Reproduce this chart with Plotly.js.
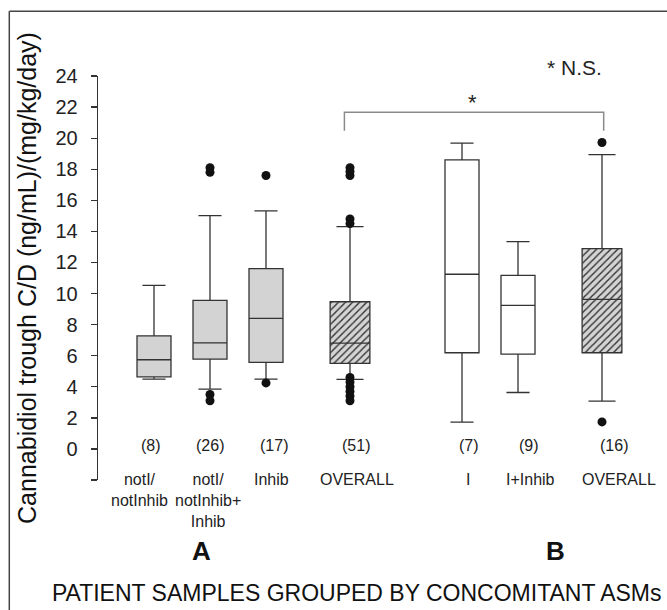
<!DOCTYPE html>
<html>
<head>
<meta charset="utf-8">
<script src="https://cdn.plot.ly/plotly-3.0.1.min.js"></script>
<style>html,body{margin:0;padding:0;background:#fff;}#chart{width:667px;height:610px;}</style>
</head>
<body>
<div id="chart"></div>
<script>
// ---- data ----
const categories = ['notI/<br>notInhib', 'notI/<br>notInhib+<br>Inhib', 'Inhib', 'OVERALL', 'I', 'I+Inhib', 'OVERALL'];
const counts = ['(8)', '(26)', '(17)', '(51)', '(7)', '(9)', '(16)'];
const groupLabels = ['A', 'B'];
const q1 = [4.64, 5.78, 5.57, 5.50, 6.19, 6.10, 6.19];
const median = [5.74, 6.83, 8.40, 6.81, 11.24, 9.24, 9.63];
const q3 = [7.28, 9.56, 11.60, 9.47, 18.60, 11.17, 12.89];
const lowerWhisker = [4.49, 3.85, 4.49, 4.47, 1.72, 3.63, 3.07];
const upperWhisker = [10.53, 15.01, 15.32, 14.30, 19.68, 13.34, 18.94];
const outliers = [
  [],
  [18.1, 17.8, 3.5, 3.1],
  [17.6, 4.25],
  [18.1, 17.85, 17.6, 14.8, 14.5, 4.6, 4.3, 4.0, 3.7, 3.4, 3.1],
  [],
  [],
  [19.72, 1.74]
];
const yTickVals = [-2, 0, 2, 4, 6, 8, 10, 12, 14, 16, 18, 20, 22, 24];
const yTickText = ['', '0', '2', '4', '6', '8', '10', '12', '14', '16', '18', '20', '22', '24'];
const yTitle = 'Cannabidiol trough C/D (ng/mL)/(mg/kg/day)';
const xTitle = 'PATIENT SAMPLES GROUPED BY CONCOMITANT ASMs';
const sigNote = '* N.S.';
const sigMark = '*';

// ---- layout positions (axis units) ----
const boxPos = [1, 2, 3, 4.5, 6.5, 7.5, 9];
const catLabelPos = [0.74, 1.97, 3.1, 4.63, 6.6, 7.73, 9.3];
const countPos = [0.95, 2.0, 3.15, 4.6, 6.63, 7.7, 9.22];
const groupPos = [1.85, 8.17];
const groupA = [0, 1, 2], groupB = [4, 5], overall = [3, 6];

const FONT = 'Liberation Sans, Arial, Helvetica, sans-serif';
const LINE = '#333333';

function pick(arr, idx) { return idx.map(i => arr[i]); }
function boxTrace(idx, width, fill) {
  return {
    type: 'box',
    x: pick(boxPos, idx),
    q1: pick(q1, idx), median: pick(median, idx), q3: pick(q3, idx),
    lowerfence: pick(lowerWhisker, idx), upperfence: pick(upperWhisker, idx),
    width: width, whiskerwidth: 0.68, boxpoints: false,
    fillcolor: fill, line: {color: LINE, width: 1.3},
    hoverinfo: 'skip', showlegend: false
  };
}

const hatch = {
  type: 'bar',
  x: pick(boxPos, overall),
  base: pick(q1, overall),
  y: overall.map(i => q3[i] - q1[i]),
  width: 0.71,
  marker: {color: '#d4d4d4', line: {width: 0},
           pattern: {shape: '/', fgcolor: '#333333', bgcolor: '#d4d4d4', size: 5, solidity: 0.28}},
  hoverinfo: 'skip', showlegend: false
};

const outX = [], outY = [];
outliers.forEach((arr, i) => arr.forEach(v => { outX.push(boxPos[i]); outY.push(v); }));
const outTrace = {
  type: 'scatter', mode: 'markers', x: outX, y: outY,
  marker: {color: '#111', size: 9}, hoverinfo: 'skip', showlegend: false, cliponaxis: false
};

const data = [
  hatch,
  boxTrace(groupA, 0.607, '#d3d3d3'),
  boxTrace(groupB, 0.607, '#ffffff'),
  boxTrace(overall, 0.71, 'rgba(0,0,0,0)'),
  outTrace
];

const annotations = [];
categories.forEach((c, i) => annotations.push({
  x: catLabelPos[i], y: -1.27, xref: 'x', yref: 'y', text: c, showarrow: false,
  xanchor: 'center', yanchor: 'top', font: {family: FONT, size: 16, color: '#222'}
}));
counts.forEach((c, i) => annotations.push({
  x: countPos[i], y: 0.25, xref: 'x', yref: 'y', text: c, showarrow: false,
  xanchor: 'center', yanchor: 'middle', font: {family: FONT, size: 16, color: '#222'}
}));
groupLabels.forEach((g, i) => annotations.push({
  x: groupPos[i], y: -0.175, xref: 'x', yref: 'paper', text: '<b>' + g + '</b>', showarrow: false,
  xanchor: 'center', yanchor: 'middle', font: {family: FONT, size: 26, color: '#111'}
}));
annotations.push({x: 0.85, y: 1.021, xref: 'paper', yref: 'paper', text: sigNote, showarrow: false,
  xanchor: 'center', yanchor: 'middle', font: {family: FONT, size: 21, color: '#222'}});
annotations.push({x: 6.68, y: 22.3, xref: 'x', yref: 'y', text: sigMark, showarrow: false,
  xanchor: 'center', yanchor: 'middle', font: {family: FONT, size: 22, color: '#222'}});

const bracketL = boxPos[3] - 0.1, bracketR = boxPos[6] + 0.03;
const shapes = [
  {type: 'path', xref: 'x', yref: 'y',
   path: `M ${bracketL},20.47 L ${bracketL},21.67 L ${bracketR},21.67 L ${bracketR},20.47`,
   line: {color: '#8a8a8a', width: 1.5}},
  // figure frame (left and top)
  {type: 'line', xref: 'paper', yref: 'paper', x0: -0.1584, x1: -0.1584, y0: -0.33, y1: 1.160,
   line: {color: '#444', width: 1.5}},
  {type: 'line', xref: 'paper', yref: 'paper', x0: -0.1584, x1: 1.03, y0: 1.160, y1: 1.160,
   line: {color: '#444', width: 1.5}}
];

const layout = {
  width: 667, height: 610,
  margin: {l: 98, r: 9, t: 76, b: 130},
  paper_bgcolor: '#fff', plot_bgcolor: '#fff',
  font: {family: FONT, color: '#222'},
  showlegend: false,
  barmode: 'overlay', boxmode: 'overlay',
  title: {text: xTitle, font: {family: FONT, size: 23, color: '#111'},
          xref: 'paper', x: 0.462, xanchor: 'center', yref: 'container', y: 0.028, yanchor: 'middle'},
  xaxis: {range: [0, 10], visible: false, fixedrange: true},
  yaxis: {range: [-2, 24], tickvals: yTickVals, ticktext: yTickText,
          showgrid: false, zeroline: false, showline: true, linecolor: LINE, linewidth: 1.3,
          ticks: 'outside', ticklen: 6, tickwidth: 1.3, tickcolor: LINE,
          ticklabelstandoff: 9, tickfont: {family: FONT, size: 20, color: '#222'},
          title: {text: yTitle, font: {family: FONT, size: 25, color: '#111'}, standoff: 11}},
  annotations: annotations,
  shapes: shapes
};

Plotly.newPlot('chart', data, layout, {displayModeBar: false, staticPlot: true});
</script>
</body>
</html>
